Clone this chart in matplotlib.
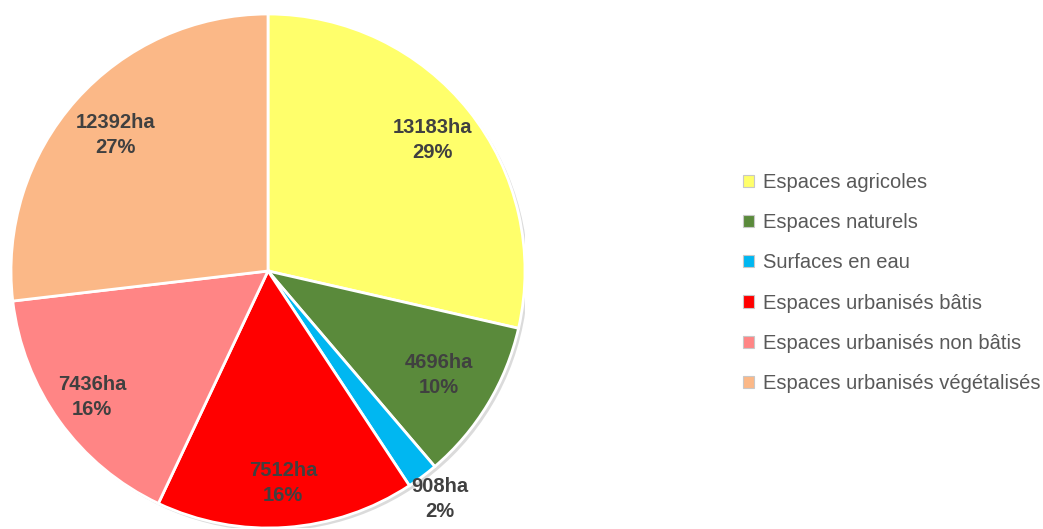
import matplotlib
matplotlib.use("Agg")
import matplotlib.pyplot as plt
from matplotlib.patches import Circle, Patch
from matplotlib import font_manager

# Occupation du sol (ha)
categories = ["Espaces agricoles", "Espaces naturels", "Surfaces en eau",
              "Espaces urbanisés bâtis", "Espaces urbanisés non bâtis",
              "Espaces urbanisés végétalisés"]
surfaces = [13183, 4696, 908, 7512, 7436, 12392]
colors = ["#FFFF6B", "#5A8A3B", "#00B7F1", "#FF0000", "#FF8585", "#FBB887"]

names = {f.name for f in font_manager.fontManager.ttflist}
label_font = "Liberation Sans Narrow" if "Liberation Sans Narrow" in names else "Liberation Sans"
label_size = 16.5 if label_font == "Liberation Sans Narrow" else 14.5

W, H = 1043, 529
fig = plt.figure(figsize=(W / 100, H / 100), dpi=100)

# pie centre (268, 271) px from top-left, radius 257 px
cx, cy, r = 268, H - 271, 257
ax = fig.add_axes([(cx - r) / W, (cy - r) / H, 2 * r / W, 2 * r / H])

total = sum(surfaces)
labels = [f"{v}ha\n{v / total * 100:.0f}%" for v in surfaces]
wedges, texts = ax.pie(surfaces, colors=colors, startangle=90, counterclock=False,
                       radius=1.0, labels=labels, labeldistance=0.81,
                       wedgeprops=dict(edgecolor="white", linewidth=2),
                       textprops=dict(color="#404040", fontweight="bold",
                                      family=label_font, fontsize=label_size,
                                      ha="center", va="center", linespacing=1.4))
ax.set_xlim(-1, 1)
ax.set_ylim(-1, 1)
ax.set_aspect("equal")
ax.axis("off")

# light shadow on the lower right
ax.add_patch(Circle((0.012, -0.012), 1.0, color="#9a9a9a", alpha=0.35, zorder=0, lw=0))

for w in wedges:
    w.set_zorder(1)

# Excel-like label placement: the small slice goes outside the pie
push = [1.01, 0.96, 1.37, 1.02, 1.04, 0.98]
for t, k in zip(texts, push):
    x, y = t.get_position()
    t.set_position((x * k, y * k))
    t.set_horizontalalignment("center")
    t.set_zorder(3)
    t.set_clip_on(False)

handles = [Patch(facecolor=c, edgecolor="#C8C8C8", linewidth=0.8) for c in colors]
fig.legend(handles, categories, loc="center left", bbox_to_anchor=(743 / W, 1 - 283 / H),
           frameon=False, prop=dict(family="Liberation Sans", size=14.5),
           labelcolor="#595959", handlelength=0.55, handleheight=0.55,
           handletextpad=0.45, labelspacing=1.05, borderpad=0, borderaxespad=0)

fig.savefig("out.png", dpi=100, facecolor="white")
